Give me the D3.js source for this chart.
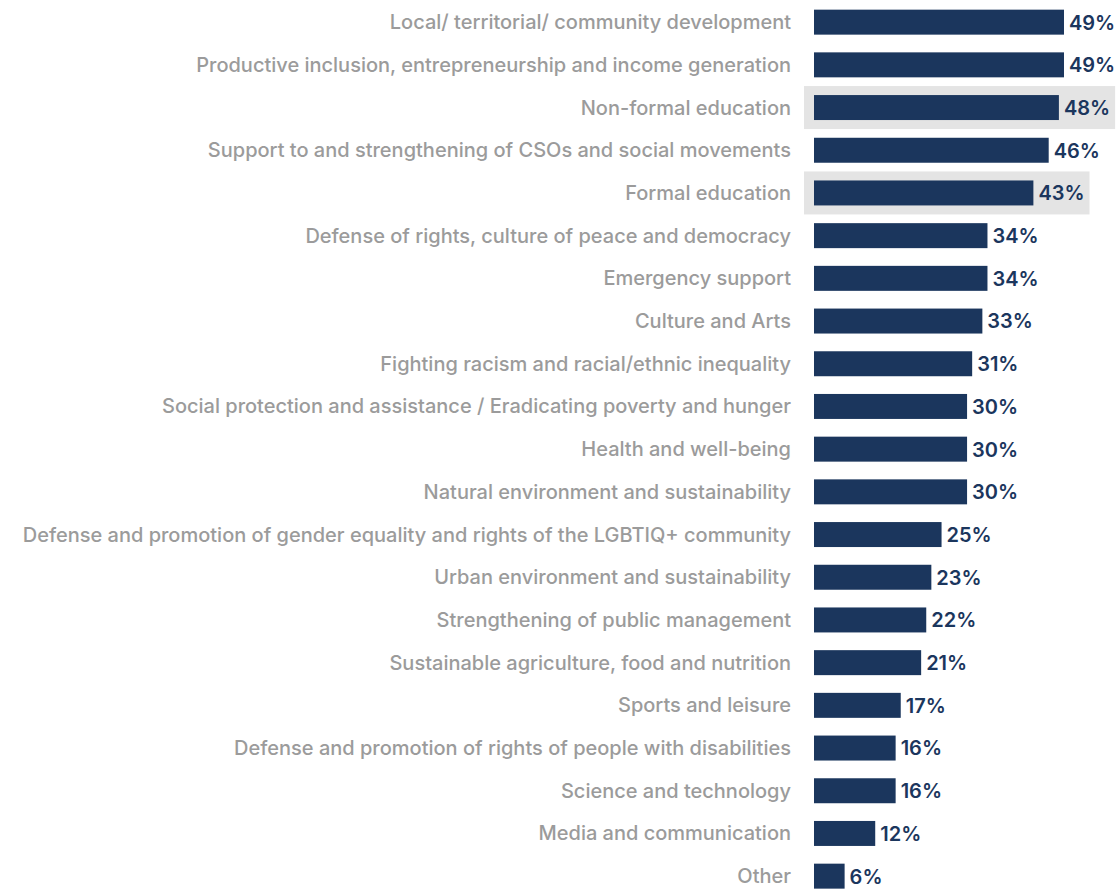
<!DOCTYPE html>
<html>
<head>
<meta charset="utf-8">
<script src="https://cdn.jsdelivr.net/npm/d3@7"></script>
<style>
  html, body { margin: 0; padding: 0; background: #ffffff; }
  svg { display: block; }
</style>
</head>
<body>
<svg id="chart" width="1116" height="891"></svg>
<script>
// Areas of activity, share of organisations (%)
const categories = [
  "Local/ territorial/ community development",
  "Productive inclusion, entrepreneurship and income generation",
  "Non-formal education",
  "Support to and strengthening of CSOs and social movements",
  "Formal education",
  "Defense of rights, culture of peace and democracy",
  "Emergency support",
  "Culture and Arts",
  "Fighting racism and racial/ethnic inequality",
  "Social protection and assistance / Eradicating poverty and hunger",
  "Health and well-being",
  "Natural environment and sustainability",
  "Defense and promotion of gender equality and rights of the LGBTIQ+ community",
  "Urban environment and sustainability",
  "Strengthening of public management",
  "Sustainable agriculture, food and nutrition",
  "Sports and leisure",
  "Defense and promotion of rights of people with disabilities",
  "Science and technology",
  "Media and communication",
  "Other"
];
const values = [49, 49, 48, 46, 43, 34, 34, 33, 31, 30, 30, 30, 25, 23, 22, 21, 17, 16, 16, 12, 6];
const highlighted = ["Non-formal education", "Formal education"];

const svg = d3.select("#chart");
const barColor = "#1b365d";
const labelColor = "#9b9b9b";
const x0 = 814;
const font = "Inter, 'Noto Sans', sans-serif";

const x = d3.scaleLinear().domain([0, 49]).range([x0, 1064]);
const y = d3.scaleBand().domain(categories).range([0.8, 897.5])
  .paddingInner(0.415).paddingOuter(0.2075);

const data = categories.map((c, i) => ({ cat: c, v: values[i] }));

const hlLayer = svg.append("g");

// bars
svg.append("g").selectAll("rect").data(data).join("rect")
  .attr("x", x0)
  .attr("y", d => y(d.cat))
  .attr("width", d => x(d.v) - x0)
  .attr("height", y.bandwidth())
  .attr("fill", barColor);

// category labels
svg.append("g").selectAll("text").data(data).join("text")
  .attr("x", 791)
  .attr("y", d => y(d.cat) + y.bandwidth() / 2)
  .attr("dy", "0.35em")
  .attr("text-anchor", "end")
  .attr("fill", labelColor)
  .style("font-family", font)
  .style("font-size", "20px")
  .style("font-weight", 500)
  .text(d => d.cat);

// value labels
const vals = svg.append("g").selectAll("text").data(data).join("text")
  .attr("x", d => x(d.v) + 5)
  .attr("y", d => y(d.cat) + y.bandwidth() / 2)
  .attr("dy", "0.37em")
  .attr("fill", barColor)
  .style("font-family", font)
  .style("font-size", "20px")
  .style("font-weight", 600)
  .text(d => d.v + "%");

// grey highlight boxes behind selected rows
vals.each(function(d) {
  if (!highlighted.includes(d.cat)) return;
  const bb = this.getBBox();
  const cy = y(d.cat) + y.bandwidth() / 2;
  hlLayer.append("rect")
    .attr("x", x0 - 10)
    .attr("y", cy - 21.5)
    .attr("width", bb.x + bb.width + 5 - (x0 - 10))
    .attr("height", 43)
    .attr("fill", "#e4e4e4");
});
</script>
</body>
</html>
